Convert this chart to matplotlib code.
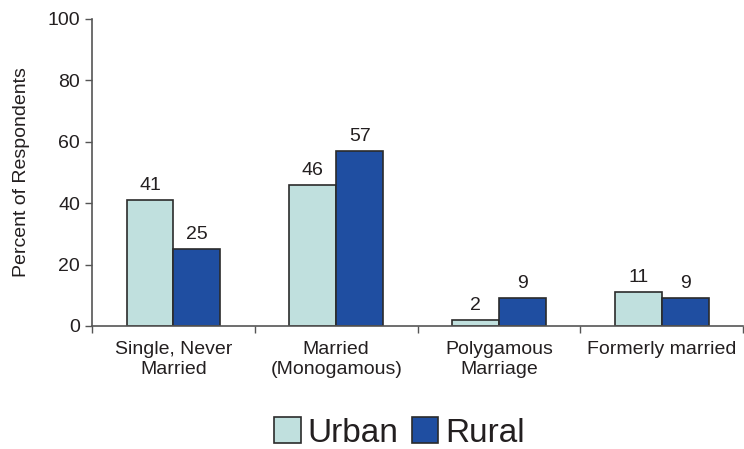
import numpy as np
import matplotlib.pyplot as plt

plt.rcParams['font.family'] = ['Liberation Sans', 'DejaVu Sans']

categories = ['Single, Never\nMarried', 'Married\n(Monogamous)', 'Polygamous\nMarriage', 'Formerly married']
urban = [41, 46, 2, 11]
rural = [25, 57, 9, 9]

urban_color = '#c0e0de'
rural_color = '#1f4ea1'
text_color = '#231f20'

fig = plt.figure(figsize=(7.44, 4.49), dpi=100)
ax = fig.add_axes([0.1237, 0.274, 0.8753, 0.684])

x = np.arange(len(categories))
w = 0.288
b1 = ax.bar(x - w / 2, urban, w, color=urban_color, edgecolor='#2b2b2b', linewidth=1.2, label='Urban')
b2 = ax.bar(x + w / 2, rural, w, color=rural_color, edgecolor='#2b2b2b', linewidth=1.2, label='Rural')

for bars, vals in ((b1, urban), (b2, rural)):
    for r, v in zip(bars, vals):
        ax.text(r.get_x() + r.get_width() / 2, v + 2.0, str(v), ha='center', va='bottom',
                fontsize=14, color=text_color)

ax.set_xlim(-0.5, 3.5)
ax.set_ylim(0, 100)
ax.set_yticks(range(0, 101, 20))
ax.set_xticks(x)
ax.set_xticklabels(categories, fontsize=14, color=text_color, linespacing=1.2)
ax.tick_params(axis='x', which='major', length=0, pad=11)
ax.set_xticks([-0.5, 0.5, 1.5, 2.5, 3.5], minor=True)
ax.tick_params(axis='x', which='minor', length=5, width=1, color='#555555')
ax.tick_params(axis='y', labelsize=14, labelcolor=text_color, length=5, width=1, color='#555555')
ax.set_ylabel('Percent of Respondents', fontsize=14, color=text_color, labelpad=13)

for s in ['top', 'right']:
    ax.spines[s].set_visible(False)
for s in ['left', 'bottom']:
    ax.spines[s].set_color('#555555')
    ax.spines[s].set_linewidth(1.2)

fig.legend(handles=[b1, b2], loc='center', bbox_to_anchor=(0.537, 0.036), ncol=2, frameon=False,
           fontsize=24, handlelength=0.8, handleheight=0.8, handletextpad=0.2, columnspacing=0.4,
           labelcolor=text_color)

fig.savefig('out.png', dpi=100)
